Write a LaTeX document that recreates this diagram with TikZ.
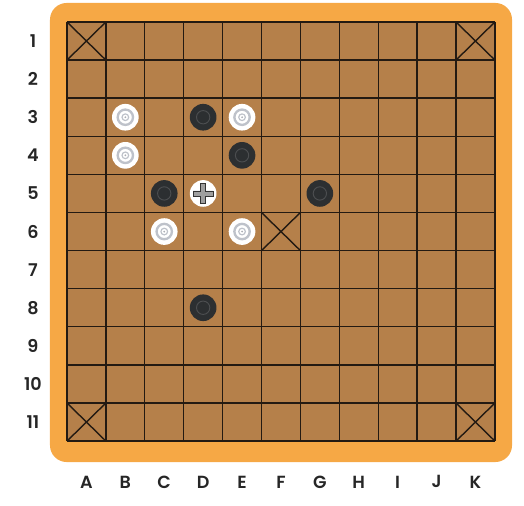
\documentclass[tikz,border=0pt]{standalone}
\usepackage{fontspec}
\setmainfont{Poppins}[UprightFont=* SemiBold]
\definecolor{frameorange}{HTML}{F6A845}
\definecolor{boardbrown}{HTML}{B5804A}
\definecolor{gridline}{HTML}{231A12}
\definecolor{stoneblack}{HTML}{2C2F31}
\definecolor{ringgrey}{HTML}{BEC2CA}
\begin{document}
\begin{tikzpicture}[
  x=1.167cm, y=-1.143cm,
  lbl/.style={font=\fontsize{15}{18}\selectfont, text=black!85},
  gline/.style={gridline, line width=1.2pt},
  whitestone/.style={circle, fill=white, inner sep=0pt, minimum size=0.8cm,
              path picture={
                \draw[ringgrey, line width=2pt] (path picture bounding box.center) circle (0.23cm);
                \draw[ringgrey, line width=1pt] (path picture bounding box.center) circle (0.1cm);
                \fill[ringgrey!70!gray] (path picture bounding box.center) circle (0.03cm);}},
  blackstone/.style={circle, fill=stoneblack, inner sep=0pt, minimum size=0.8cm,
              path picture={
                \draw[stoneblack!85!white, line width=0.8pt] (path picture bounding box.center) circle (0.2cm);}},
  kingstone/.style={circle, fill=white, inner sep=0pt, minimum size=0.8cm,
              path picture={
                \begin{scope}[shift={(path picture bounding box.center)}, x=1cm, y=1cm]
                  \filldraw[fill=gray!75, draw=gray!40!black, line width=0.5pt]
                    (-0.075,-0.3) -- (0.075,-0.3) -- (0.075,-0.075) -- (0.3,-0.075) -- (0.3,0.075)
                    -- (0.075,0.075) -- (0.075,0.3) -- (-0.075,0.3) -- (-0.075,0.075) -- (-0.3,0.075)
                    -- (-0.3,-0.075) -- (-0.075,-0.075) -- cycle;
                \end{scope}}}
]
\useasboundingbox (-1.722,-0.577) rectangle (11.748,12.703);

% frame and board
\fill[frameorange, rounded corners=0.5cm] (-0.437,-0.499) rectangle (11.44,11.549);
\fill[boardbrown] (0,0) rectangle (11,11);
\foreach \i in {0,...,11} {
  \draw[gline] (\i,0) -- (\i,11);
  \draw[gline] (0,\i) -- (11,\i);
}
% marked squares
\foreach \c/\r in {0/0, 10/0, 0/10, 10/10, 5/5}
  \draw[gline] (\c,\r) -- ++(1,1) (\c+1,\r) -- ++(-1,1);

% labels
\foreach \n in {1,...,11}
  \node[lbl] (row\n) at (-0.874,\n-0.5) {\n};
\foreach \l [count=\i] in {A,...,K}
  \node[lbl] (col\l) at (\i-0.5,12.07) {\l};

% pieces
\node[whitestone] (b3) at (1.5,2.5) {};
\node[whitestone] (e3) at (4.5,2.5) {};
\node[whitestone] (b4) at (1.5,3.5) {};
\node[whitestone] (c6) at (2.5,5.5) {};
\node[whitestone] (e6) at (4.5,5.5) {};
\node[blackstone] (d3) at (3.5,2.5) {};
\node[blackstone] (e4) at (4.5,3.5) {};
\node[blackstone] (c5) at (2.5,4.5) {};
\node[blackstone] (g5) at (6.5,4.5) {};
\node[blackstone] (d8) at (3.5,7.5) {};
\node[kingstone]  (d5) at (3.5,4.5) {};
\end{tikzpicture}
\end{document}
